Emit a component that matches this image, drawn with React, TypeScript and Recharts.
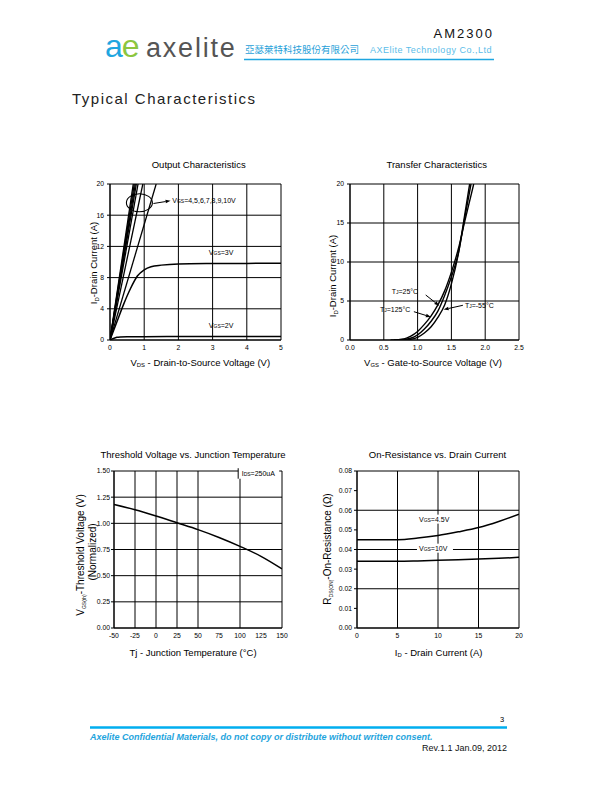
import React from "react";
import {
  LineChart,
  Line,
  XAxis,
  YAxis,
  CartesianGrid,
  ReferenceDot,
  ReferenceLine,
} from "recharts";

const FONT = '"Liberation Sans", Arial, Helvetica, sans-serif';

// Output characteristics (Vds in V, Id in A)
const outSteepVgs = [10, 9, 8, 7, 6, 5, 4];
const outSteepVdsAt20A = [0.68, 0.71, 0.74, 0.77, 0.82, 0.96, 1.35];
const out3vVds = [0, 0.2, 0.4, 0.6, 0.8, 1.0, 1.2, 1.5, 2, 3, 4, 5];
const out3vId = [0, 2.3, 4.6, 6.6, 8.2, 9.0, 9.4, 9.6, 9.75, 9.8, 9.82, 9.85];
const out2vVds = [0, 0.1, 0.2, 0.3, 0.5, 1, 2, 3, 4, 5];
const out2vId = [0, 0.2, 0.35, 0.4, 0.42, 0.43, 0.44, 0.45, 0.45, 0.45];
const outXTicks = [0, 1, 2, 3, 4, 5];
const outYTicks = [0, 4, 8, 12, 16, 20];

// Transfer characteristics (Vgs in V, Id in A)
const tr125Vgs = [0.6, 0.8, 0.9, 1.0, 1.1, 1.2, 1.3, 1.4, 1.5, 1.6, 1.7, 1.8, 1.83];
const tr125Id = [0, 0.15, 0.5, 1.1, 2.0, 3.1, 4.5, 6.3, 8.7, 11.6, 15.3, 18.9, 20];
const tr25Vgs = [0.65, 0.85, 0.95, 1.0, 1.1, 1.2, 1.3, 1.4, 1.5, 1.6, 1.7, 1.79];
const tr25Id = [0, 0.15, 0.4, 0.65, 1.4, 2.4, 3.7, 5.7, 8.1, 11.0, 15.8, 20];
const trM55Vgs = [0.7, 0.9, 1.0, 1.1, 1.2, 1.3, 1.4, 1.5, 1.6, 1.7, 1.77];
const trM55Id = [0, 0.1, 0.35, 0.9, 1.7, 2.9, 4.5, 7.2, 10.9, 16.2, 20];
const trXTicks = [0, 0.5, 1.0, 1.5, 2.0, 2.5];
const trYTicks = [0, 5, 10, 15, 20];

// Threshold voltage vs junction temperature
const thTemp = [-50, -25, 0, 25, 50, 75, 100, 125, 150];
const thVth = [1.18, 1.13, 1.07, 1.005, 0.94, 0.865, 0.78, 0.685, 0.565];
const thXTicks = [-50, -25, 0, 25, 50, 75, 100, 125, 150];
const thYTicks = [0, 0.25, 0.5, 0.75, 1.0, 1.25, 1.5];

// On-resistance vs drain current
const rdsId = [0, 2.5, 5, 7.5, 10, 12.5, 15, 17.5, 20];
const rdsVgs45 = [0.045, 0.045, 0.045, 0.0458, 0.0471, 0.049, 0.0512, 0.0543, 0.058];
const rdsVgs10 = [0.034, 0.034, 0.034, 0.0342, 0.0345, 0.0348, 0.0351, 0.0355, 0.036];
const rdsXTicks = [0, 5, 10, 15, 20];
const rdsYTicks = [0, 0.01, 0.02, 0.03, 0.04, 0.05, 0.06, 0.07, 0.08];

const pairs = (xs: number[], ys: number[]) => xs.map((x, i) => ({ x, y: ys[i] }));

const tickStyle = { fontSize: 6.8, fill: "#000", fontFamily: FONT };

type Box = { x0: number; y0: number; x1: number; y1: number };

const Frame = ({ box, children }: { box: Box; children: React.ReactNode }) => (
  <div style={{ position: "absolute", left: box.x0 - 45, top: box.y0 - 10 }}>
    <LineChart
      width={box.x1 - box.x0 + 55}
      height={box.y1 - box.y0 + 30}
      margin={{ top: 10, right: 10, bottom: 0, left: 5 }}
    >
      {children}
    </LineChart>
  </div>
);

// text with a subscript, drawn at a data position
const subLabel =
  (main: string, sub: string, rest: string, bgWidth = 0) =>
  (p: any) => (
    <g>
      {bgWidth > 0 && <rect x={p.cx - 2} y={p.cy - 7} width={bgWidth} height={9} fill="#fff" />}
      <text x={p.cx} y={p.cy} fontSize={7} fontFamily={FONT} fill="#000">
        <tspan>{main}</tspan>
        <tspan fontSize={5}>{sub}</tspan>
        <tspan>{rest}</tspan>
      </text>
    </g>
  );

const Arrow = (p: any) => {
  const { x1, y1, x2, y2 } = p;
  const a = Math.atan2(y2 - y1, x2 - x1);
  const l = 5;
  const w = 1.8;
  const bx = x2 - l * Math.cos(a);
  const by = y2 - l * Math.sin(a);
  const pts = `${x2},${y2} ${bx + w * Math.sin(a)},${by - w * Math.cos(a)} ${bx - w * Math.sin(a)},${by + w * Math.cos(a)}`;
  return (
    <g>
      <line x1={x1} y1={y1} x2={bx} y2={by} stroke="#000" strokeWidth={1} />
      <polygon points={pts} fill="#000" />
    </g>
  );
};

const Ellipse = (p: any) => (
  <ellipse cx={p.cx} cy={p.cy} rx={13} ry={9} fill="none" stroke="#000" strokeWidth={1.1} />
);

const axisCommon = {
  stroke: "#000",
  tick: tickStyle,
  allowDataOverflow: true,
};

const OutputChart = () => (
  <Frame box={{ x0: 110, y0: 184, x1: 281, y1: 340 }}>
    <CartesianGrid stroke="#000" strokeWidth={1} />
    <XAxis type="number" dataKey="x" domain={[0, 5]} ticks={outXTicks} height={20} tickLine={false} tickSize={3} tickMargin={2} {...axisCommon} />
    <YAxis type="number" dataKey="y" domain={[0, 20]} ticks={outYTicks} width={40} tickSize={3} tickMargin={3} {...axisCommon} />
    {outSteepVgs.map((v, i) => (
      <Line
        key={v}
        data={pairs([0, outSteepVdsAt20A[i]], [0, 20])}
        dataKey="y"
        stroke="#000"
        strokeWidth={1.3}
        dot={false}
        isAnimationActive={false}
      />
    ))}
    <Line data={pairs(out3vVds, out3vId)} dataKey="y" type="monotone" stroke="#000" strokeWidth={1.5} dot={false} isAnimationActive={false} />
    <Line data={pairs(out2vVds, out2vId)} dataKey="y" type="monotone" stroke="#000" strokeWidth={1.5} dot={false} isAnimationActive={false} />
    <ReferenceDot x={0.86} y={17.6} r={0} shape={Ellipse} />
    <ReferenceLine segment={[{ x: 1.27, y: 17.5 }, { x: 1.77, y: 17.85 }]} shape={Arrow} />
    <ReferenceDot x={1.82} y={17.6} r={0} shape={subLabel("V", "GS", "=4,5,6,7,8,9,10V")} />
    <ReferenceDot x={2.89} y={10.9} r={0} shape={subLabel("V", "GS", "=3V")} />
    <ReferenceDot x={2.89} y={1.5} r={0} shape={subLabel("V", "GS", "=2V")} />
  </Frame>
);

const TransferChart = () => (
  <Frame box={{ x0: 350, y0: 184, x1: 519, y1: 340 }}>
    <CartesianGrid stroke="#000" strokeWidth={1} />
    <XAxis type="number" dataKey="x" domain={[0, 2.5]} ticks={trXTicks} tickFormatter={(v: number) => v.toFixed(1)} height={20} tickLine={false} tickSize={3} tickMargin={2} {...axisCommon} />
    <YAxis type="number" dataKey="y" domain={[0, 20]} ticks={trYTicks} width={40} tickSize={3} tickMargin={3} {...axisCommon} />
    <Line data={pairs(tr125Vgs, tr125Id)} dataKey="y" type="monotone" stroke="#000" strokeWidth={1.4} dot={false} isAnimationActive={false} />
    <Line data={pairs(tr25Vgs, tr25Id)} dataKey="y" type="monotone" stroke="#000" strokeWidth={1.4} dot={false} isAnimationActive={false} />
    <Line data={pairs(trM55Vgs, trM55Id)} dataKey="y" type="monotone" stroke="#000" strokeWidth={1.4} dot={false} isAnimationActive={false} />
    <ReferenceDot x={0.616} y={5.9} r={0} shape={subLabel("T", "J", "=25°C")} />
    <ReferenceLine segment={[{ x: 1.12, y: 5.77 }, { x: 1.32, y: 4.4 }]} shape={Arrow} />
    <ReferenceDot x={0.443} y={3.63} r={0} shape={subLabel("T", "J", "=125°C")} />
    <ReferenceLine segment={[{ x: 0.945, y: 3.63 }, { x: 1.196, y: 2.95 }]} shape={Arrow} />
    <ReferenceDot x={1.7} y={4.14} r={0} shape={subLabel("T", "J", "=-55°C")} />
    <ReferenceLine segment={[{ x: 1.67, y: 4.45 }, { x: 1.385, y: 3.9 }]} shape={Arrow} />
  </Frame>
);

const ThresholdChart = () => (
  <Frame box={{ x0: 114, y0: 471, x1: 282, y1: 628 }}>
    <CartesianGrid stroke="#000" strokeWidth={1} />
    <XAxis type="number" dataKey="x" domain={[-50, 150]} ticks={thXTicks} height={20} tickLine={false} tickSize={3} tickMargin={2} {...axisCommon} />
    <YAxis type="number" dataKey="y" domain={[0, 1.5]} ticks={thYTicks} tickFormatter={(v: number) => v.toFixed(2)} width={40} tickSize={3} tickMargin={1} {...axisCommon} />
    <Line data={pairs(thTemp, thVth)} dataKey="y" type="monotone" stroke="#000" strokeWidth={1.5} dot={false} isAnimationActive={false} />
    <ReferenceDot
      x={102}
      y={1.45}
      r={0}
      shape={(p: any) => (
        <g>
          <rect x={p.cx - 3.5} y={p.cy - 8} width={41} height={10.5} fill="#fff" />
          <line x1={p.cx - 3.5} y1={p.cy - 8} x2={p.cx - 3.5} y2={p.cy + 2.5} stroke="#000" />
          <text x={p.cx} y={p.cy} fontSize={7} fontFamily={FONT}>
            <tspan>I</tspan>
            <tspan fontSize={5}>DS</tspan>
            <tspan>=250uA</tspan>
          </text>
        </g>
      )}
    />
  </Frame>
);

const RdsChart = () => (
  <Frame box={{ x0: 357, y0: 471, x1: 519, y1: 628 }}>
    <CartesianGrid stroke="#000" strokeWidth={1} />
    <XAxis type="number" dataKey="x" domain={[0, 20]} ticks={rdsXTicks} height={20} tickLine={false} tickSize={3} tickMargin={2} {...axisCommon} />
    <YAxis type="number" dataKey="y" domain={[0, 0.08]} ticks={rdsYTicks} tickFormatter={(v: number) => v.toFixed(2)} width={40} tickSize={3} tickMargin={2} {...axisCommon} />
    <Line data={pairs(rdsId, rdsVgs45)} dataKey="y" type="monotone" stroke="#000" strokeWidth={1.5} dot={false} isAnimationActive={false} />
    <Line data={pairs(rdsId, rdsVgs10)} dataKey="y" type="monotone" stroke="#000" strokeWidth={1.5} dot={false} isAnimationActive={false} />
    <ReferenceDot x={7.65} y={0.0542} r={0} shape={subLabel("V", "GS", "=4.5V", 38)} />
    <ReferenceDot x={7.65} y={0.0394} r={0} shape={subLabel("V", "GS", "=10V", 36)} />
  </Frame>
);

const Sub = ({ children, size = "0.62em" }: { children: React.ReactNode; size?: string }) => (
  <tspan fontSize={size} dy={1.5}>
    {children}
  </tspan>
);

const PageText = () => (
  <svg width={612} height={792} style={{ position: "absolute", left: 0, top: 0 }} fontFamily={FONT}>
    {/* header */}
    <text x={105} y={57} fontSize={32} fontFamily={FONT}>
      <tspan fill="#1fa6e0">a</tspan>
      <tspan fill="#8cc63f" dx={-1}>e</tspan>
    </text>
    <text x={146} y={57} fontSize={27} fill="#555" letterSpacing={1.8}>
      axelite
    </text>
    <text x={494} y={38} fontSize={13} textAnchor="end" letterSpacing={2} fill="#111">
      AM2300
    </text>
    <text x={245} y={53} fontSize={9.5} fill="#1f9fd9" fontFamily='"Noto Sans CJK TC", sans-serif'>
      亞瑟萊特科技股份有限公司
    </text>
    <text x={370} y={53} fontSize={9} letterSpacing={0.5} fill="#5bbde9">
      AXElite Technology Co.,Ltd
    </text>
    <line x1={244} y1={59.5} x2={494} y2={59.5} stroke="#1fa6e0" strokeWidth={1.5} />
    <text x={72} y={104} fontSize={15} letterSpacing={1.5} fill="#222">
      Typical Characteristics
    </text>

    {/* chart titles */}
    <text x={198.7} y={168.3} fontSize={9.5} textAnchor="middle">Output Characteristics</text>
    <text x={436.7} y={168.3} fontSize={9.5} textAnchor="middle">Transfer Characteristics</text>
    <text x={193} y={457.5} fontSize={9.5} textAnchor="middle">Threshold Voltage vs. Junction Temperature</text>
    <text x={437.5} y={457.5} fontSize={9.5} textAnchor="middle">On-Resistance vs. Drain Current</text>

    {/* x titles */}
    <text x={200.3} y={365.7} fontSize={9.5} textAnchor="middle">
      V<Sub>DS</Sub>
      <tspan dy={-1.5}> - Drain-to-Source Voltage (V)</tspan>
    </text>
    <text x={433} y={365.7} fontSize={9.5} textAnchor="middle">
      V<Sub>GS</Sub>
      <tspan dy={-1.5}> - Gate-to-Source Voltage (V)</tspan>
    </text>
    <text x={193} y={655.7} fontSize={9.5} textAnchor="middle">
      Tj - Junction Temperature (°C)
    </text>
    <text x={438.7} y={655.7} fontSize={9.5} textAnchor="middle">
      I<Sub>D</Sub>
      <tspan dy={-1.5}> - Drain Current (A)</tspan>
    </text>

    {/* y titles */}
    <text transform="translate(97,263) rotate(-90)" fontSize={9.5} textAnchor="middle">
      I<Sub>D</Sub>
      <tspan dy={-1.5}>-Drain Current (A)</tspan>
    </text>
    <text transform="translate(336,276) rotate(-90)" fontSize={9.5} textAnchor="middle">
      I<Sub>D</Sub>
      <tspan dy={-1.5}>-Drain Current (A)</tspan>
    </text>
    <text transform="translate(84,555) rotate(-90)" fontSize={10} textAnchor="middle">
      V<Sub size="0.5em">GS(th)</Sub>
      <tspan dy={-1.5}>-Threshold Voltage (V)</tspan>
    </text>
    <text transform="translate(96,552) rotate(-90)" fontSize={10} textAnchor="middle">
      (Normalized)
    </text>
    <text transform="translate(331,549) rotate(-90)" fontSize={10} textAnchor="middle">
      R<Sub size="0.5em">DS(ON)</Sub>
      <tspan dy={-1.5}>-On-Resistance (Ω)</tspan>
    </text>

    {/* footer */}
    <text x={500} y={722} fontSize={7.5}>3</text>
    <line x1={90} y1={727.5} x2={507} y2={727.5} stroke="#00aeef" strokeWidth={2.3} />
    <text x={90} y={740} fontSize={9} fontStyle="italic" fontWeight="bold" fill="#1ea4dd">
      Axelite Confidential Materials, do not copy or distribute without written consent.
    </text>
    <text x={507} y={751} fontSize={9} textAnchor="end" fill="#111">
      Rev.1.1 Jan.09, 2012
    </text>
  </svg>
);

export default function App() {
  return (
    <div
      style={{
        position: "absolute",
        left: 0,
        top: 0,
        width: 612,
        height: 792,
        background: "#fff",
        fontFamily: FONT,
      }}
    >
      <PageText />
      <OutputChart />
      <TransferChart />
      <ThresholdChart />
      <RdsChart />
    </div>
  );
}
